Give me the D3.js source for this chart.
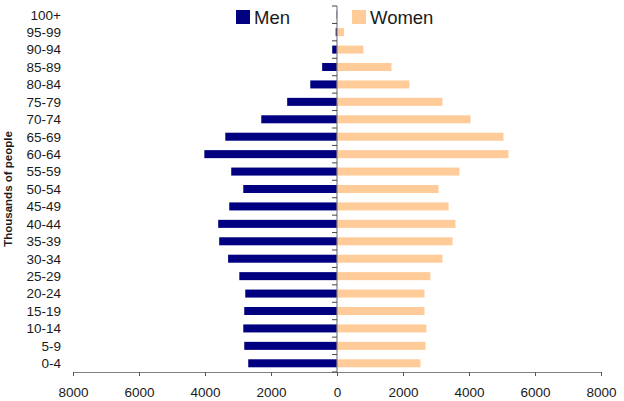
<!DOCTYPE html>
<html>
<head>
<meta charset="utf-8">
<script src="https://cdn.jsdelivr.net/npm/d3@7"></script>
<style>
  html, body { margin: 0; padding: 0; background: #fff; }
  svg { display: block; }
  text { font-family: "Liberation Sans", Arial, sans-serif; fill: #1a1a1a; }
</style>
</head>
<body>
<svg id="chart" width="624" height="401"></svg>
<script>
// Age groups, youngest first
const ageGroups = ["0-4","5-9","10-14","15-19","20-24","25-29","30-34","35-39","40-44","45-49",
  "50-54","55-59","60-64","65-69","70-74","75-79","80-84","85-89","90-94","95-99","100+"];
// Population in thousands
const men = [2690, 2810, 2840, 2810, 2780, 2960, 3300, 3570, 3600, 3265,
  2840, 3205, 4020, 3385, 2295, 1510, 810, 450, 145, 40, 12];
const women = [2530, 2680, 2710, 2650, 2650, 2830, 3195, 3500, 3590, 3380,
  3075, 3710, 5195, 5045, 4045, 3195, 2195, 1650, 800, 215, 20];
const xTicks = [-8000, -6000, -4000, -2000, 0, 2000, 4000, 6000, 8000];
const seriesNames = ["Men", "Women"];
const seriesColors = ["#000080", "#FFCC99"];

const svg = d3.select("#chart");
const plot = { left: 73, right: 601, top: 6, bottom: 372 };

const x = d3.scaleLinear().domain([-8000, 8000]).range([plot.left, plot.right]);
const pad = 0.54;
const y = d3.scaleBand()
  .domain(ageGroups.slice().reverse())
  .range([plot.top, plot.bottom])
  .paddingInner(pad)
  .paddingOuter(pad / 2);

const rows = ageGroups.map((g, i) => ({ g, m: men[i], w: women[i] }));

// Men bars (to the left of zero)
svg.append("g").selectAll("rect").data(rows).join("rect")
  .attr("x", d => x(-d.m))
  .attr("y", d => y(d.g))
  .attr("width", d => x(0) - x(-d.m))
  .attr("height", y.bandwidth())
  .attr("fill", seriesColors[0]);

// Women bars (to the right of zero)
svg.append("g").selectAll("rect").data(rows).join("rect")
  .attr("x", x(0))
  .attr("y", d => y(d.g))
  .attr("width", d => x(d.w) - x(0))
  .attr("height", y.bandwidth())
  .attr("fill", seriesColors[1]);

// Bottom axis
const xAxis = d3.axisBottom(x)
  .tickValues(xTicks)
  .tickFormat(d => Math.abs(d))
  .tickSize(4)
  .tickSizeOuter(0);
const gx = svg.append("g").attr("transform", `translate(0,${plot.bottom})`).call(xAxis);
gx.select(".domain").attr("stroke", "#808080");
gx.selectAll(".tick line").attr("stroke", "#555");
gx.selectAll(".tick text")
  .attr("y", 15)
  .attr("font-size", 13.5)
  .style("font-family", "'Liberation Sans', Arial, sans-serif")
  .attr("fill", "#1a1a1a");

// Central vertical axis with ticks between categories
const step = y.step();
const edge0 = y(ageGroups[ageGroups.length - 1]) - (step - y.bandwidth()) / 2;
const boundaries = d3.range(ageGroups.length + 1).map(i => edge0 + i * step);
const gy = svg.append("g");
gy.append("line")
  .attr("x1", x(0)).attr("x2", x(0))
  .attr("y1", plot.top).attr("y2", plot.bottom)
  .attr("stroke", "#808080").attr("stroke-width", 1.2);
gy.selectAll("line.tk").data(boundaries).join("line")
  .attr("class", "tk")
  .attr("x1", x(0) - 5).attr("x2", x(0))
  .attr("y1", d => d).attr("y2", d => d)
  .attr("stroke", "#444");

// Category labels
svg.append("g").selectAll("text").data(ageGroups).join("text")
  .attr("x", 61)
  .attr("y", d => y(d) + y.bandwidth() / 2)
  .attr("dy", "0.36em")
  .attr("text-anchor", "end")
  .attr("font-size", 13.5)
  .text(d => d);

// Axis title
svg.append("text")
  .attr("transform", `translate(12,${(plot.top + plot.bottom) / 2}) rotate(-90)`)
  .attr("text-anchor", "middle")
  .attr("font-size", 11.5)
  .attr("font-weight", "bold")
  .text("Thousands of people");

// Legend
const legendPos = [236, 352];
const lg = svg.append("g").selectAll("g").data(seriesNames).join("g")
  .attr("transform", (d, i) => `translate(${legendPos[i]},10)`);
lg.append("rect").attr("width", 14).attr("height", 14)
  .attr("fill", (d, i) => seriesColors[i]);
lg.append("text").attr("x", 18).attr("y", 14)
  .attr("font-size", 18.5)
  .text(d => d);
</script>
</body>
</html>
